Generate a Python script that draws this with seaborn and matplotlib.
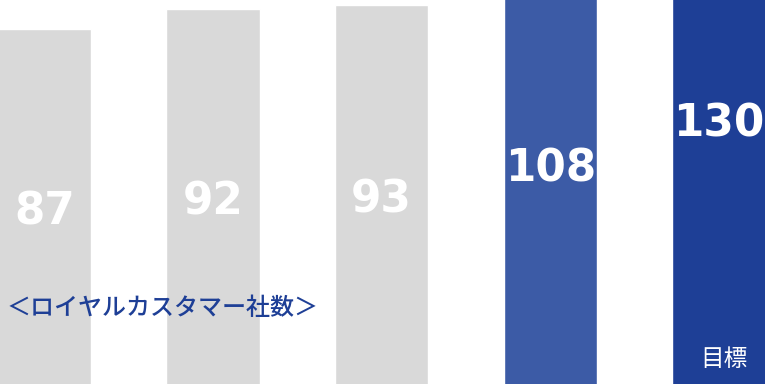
import matplotlib
matplotlib.use("Agg")
import matplotlib.pyplot as plt
import seaborn as sns
import pandas as pd

# Royal-customer counts per period; the last bar is the target
periods = ["P1", "P2", "P3", "P4", "目標"]
customers = [87, 92, 93, 108, 130]
bar_colors = ["#D9D9D9", "#D9D9D9", "#D9D9D9", "#3C5BA6", "#1E3F96"]
title_text = "＜ロイヤルカスタマー社数＞"
target_text = "目標"

sns.set_theme(style="white")
plt.rcParams["font.family"] = ["DejaVu Sans", "Noto Sans CJK JP"]

df = pd.DataFrame({"period": periods, "customers": customers})

fig = plt.figure(figsize=(7.65, 3.84), dpi=100)
ax = fig.add_axes([0, 0, 1, 1])

sns.barplot(data=df, x="period", y="customers", hue="period",
            palette=bar_colors, width=0.555, legend=False,
            saturation=1, ax=ax)

# Only the lower part of the columns is shown
ax.set_xlim(-0.263, 4.273)
ax.set_ylim(0.49, 94.15)
ax.set_axis_off()

# Value labels sit halfway up each column
for i, v in enumerate(customers):
    ax.text(i, v / 2, f"{v}", ha="center", va="center_baseline",
            color="white", fontsize=31.5, fontweight="bold",
            family="DejaVu Sans")

ax.text(0.008, 0.198, title_text, transform=ax.transAxes,
        ha="left", va="center", color="#1E3F96", fontsize=17.3,
        fontweight="medium",
        family=["Noto Sans CJK JP", "DejaVu Sans"])

ax.text(4.03, 6.5, target_text, ha="center", va="center",
        color="white", fontsize=17,
        family=["Noto Sans CJK JP", "DejaVu Sans"])

fig.savefig("out.png", dpi=100)
